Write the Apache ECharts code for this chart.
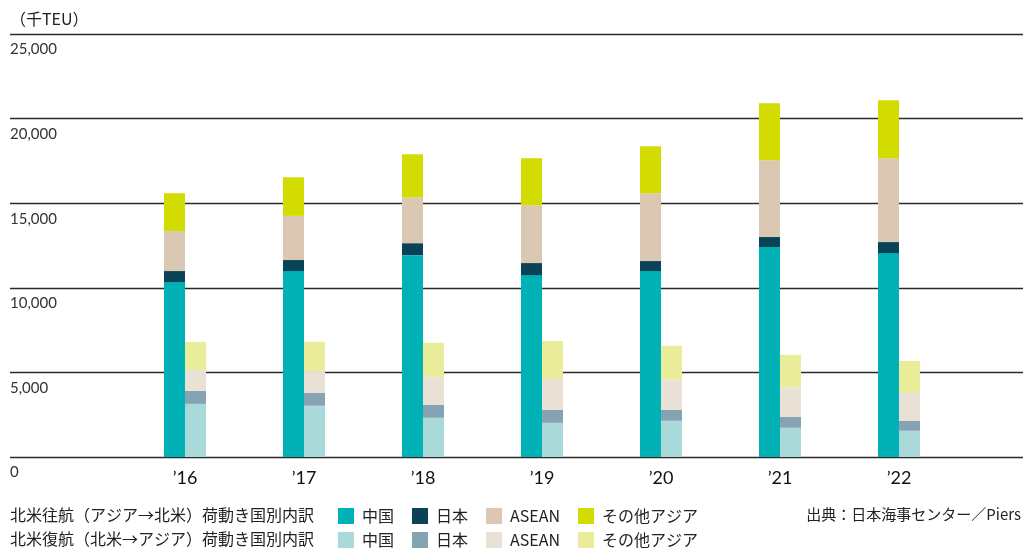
<!DOCTYPE html>
<html>
<head>
<meta charset="utf-8">
<script src="https://cdn.jsdelivr.net/npm/echarts@6/dist/echarts.min.js"></script>
<style>
html,body{margin:0;padding:0;background:#fff;}
#c{width:1023px;height:549px;}
</style>
</head>
<body>
<div id="c"></div>
<script>
// ---- data ----
const categories = ["\u201916", "\u201917", "\u201918", "\u201919", "\u201920", "\u201921", "\u201922"];
const yTicks = [0, 5000, 10000, 15000, 20000, 25000];
// 北米往航（アジア→北米）
const outChina = [10340, 10990, 11930, 10750, 10990, 12410, 12050];
const outJapan = [650, 650, 710, 710, 590, 590, 650];
const outASEAN = [2360, 2610, 2710, 3420, 4010, 4540, 4960];
const outOther = [2240, 2280, 2540, 2770, 2770, 3360, 3420];
// 北米復航（北米→アジア）
const inChina = [3140, 3030, 2320, 2020, 2140, 1730, 1550];
const inJapan = [770, 770, 770, 770, 650, 650, 590];
const inASEAN = [1240, 1260, 1650, 1830, 1790, 1730, 1650];
const inOther = [1650, 1750, 2010, 2240, 1990, 1930, 1890];

const itemNames = ["中国", "日本", "ASEAN", "その他アジア"];
const outColors = ["#00b1b5", "#0a4257", "#dbc8b2", "#d2dc00"];
const inColors = ["#a9d9d9", "#86a3b3", "#eae1d6", "#e9ec98"];

const FONT = "Lato, 'Noto Sans CJK JP', sans-serif";
const JFONT = "'Noto Sans CJK JP', sans-serif";

const outData = [outChina, outJapan, outASEAN, outOther];
const inData = [inChina, inJapan, inASEAN, inOther];

const series = [];
outData.forEach((d, i) => series.push({
  name: "往:" + itemNames[i], type: "bar", stack: "out", xAxisIndex: 1, yAxisIndex: 1,
  barWidth: 21, barGap: 0, data: d, itemStyle: { color: outColors[i] }
}));
inData.forEach((d, i) => series.push({
  name: "復:" + itemNames[i], type: "bar", stack: "in", xAxisIndex: 1, yAxisIndex: 1,
  barWidth: 21, barGap: 0, data: d, itemStyle: { color: inColors[i] }
}));

const legendCommon = {
  left: 338, itemWidth: 16, itemHeight: 16, itemGap: 18, icon: "rect", padding: 0,
  selectedMode: false,
  formatter: n => n.slice(2),
  textStyle: { fontSize: 16, color: "#222", fontFamily: JFONT, padding: [0, 0, 0, 3] }
};

const chart = echarts.init(document.getElementById("c"), null, { renderer: "canvas" });
chart.setOption({
  animation: false,
  backgroundColor: "#fff",
  grid: [
    { left: 10, right: 0, top: 34, bottom: 92 },
    { left: 125.5, width: 833, top: 34, bottom: 92 }
  ],
  xAxis: [
    { gridIndex: 0, type: "value", show: false, min: 0, max: 1 },
    {
      gridIndex: 1, type: "category", data: categories,
      axisLine: { show: false }, axisTick: { show: false },
      axisLabel: { margin: 12, fontSize: 18, color: "#111", fontFamily: FONT }
    }
  ],
  yAxis: [
    {
      gridIndex: 0, type: "value", min: 0, max: yTicks[yTicks.length - 1], interval: yTicks[1] - yTicks[0],
      axisLine: { show: false }, axisTick: { show: false },
      splitLine: { show: true, lineStyle: { color: "#2a2a2a", width: 1.3 } },
      axisLabel: {
        inside: true, margin: 0, verticalAlign: "top", padding: [8, 0, 0, 0],
        fontSize: 15, color: "#333", fontFamily: FONT,
        formatter: v => v.toLocaleString("en-US")
      }
    },
    { gridIndex: 1, type: "value", min: 0, max: yTicks[yTicks.length - 1], interval: yTicks[1] - yTicks[0], show: false, splitLine: { show: false } }
  ],
  legend: [
    Object.assign({}, legendCommon, { top: 508, data: itemNames.map(n => "往:" + n) }),
    Object.assign({}, legendCommon, { top: 532, data: itemNames.map(n => "復:" + n) })
  ],
  graphic: [
    { type: "text", left: 10, top: 11, style: { text: "（千TEU）", fontSize: 16, fill: "#222", fontFamily: JFONT } },
    { type: "text", left: 10, top: 507, style: { text: "北米往航（アジア→北米）荷動き国別内訳", fontSize: 16, fill: "#222", fontFamily: JFONT } },
    { type: "text", left: 10, top: 531, style: { text: "北米復航（北米→アジア）荷動き国別内訳", fontSize: 16, fill: "#222", fontFamily: JFONT } },
    { type: "text", right: 2, top: 507, style: { text: "出典：日本海事センター／Piers", fontSize: 15, fill: "#222", fontFamily: JFONT } }
  ],
  series: series
});
</script>
</body>
</html>
